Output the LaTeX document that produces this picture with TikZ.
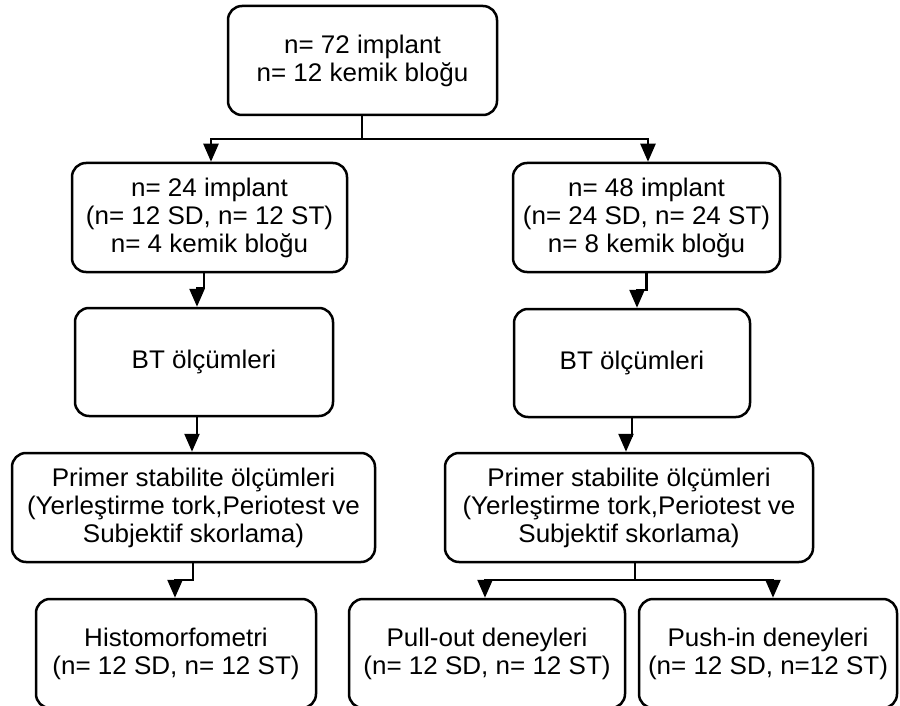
\documentclass[tikz,border=0pt]{standalone}
\usepackage{fontspec}
\setmainfont{Liberation Sans}[FakeStretch=1.02]
\usetikzlibrary{arrows.meta,calc}
\begin{document}
\begin{tikzpicture}[x=1pt,y=-1pt,
  box/.style={draw,line width=2.5pt,rounded corners=14pt,align=center,inner sep=0pt,
    font=\fontsize{25.5}{28}\selectfont},
  arr/.style={line width=2.4pt,-{Triangle[width=15pt,length=18pt]}},
  ln/.style={line width=2.4pt}]
\useasboundingbox (0,0) rectangle (900,706);
\node[box,minimum width=269pt,minimum height=109pt] (top) at (362.5,60.5) {n= 72 implant\\n= 12 kemik bloğu};
\node[box,minimum width=275pt,minimum height=109pt] (L1) at (209.5,217.5) {n= 24 implant\\(n= 12 SD, n= 12 ST)\\n= 4 kemik bloğu};
\node[box,minimum width=267pt,minimum height=109pt] (R1) at (646.5,217.5) {n= 48 implant\\(n= 24 SD, n= 24 ST)\\n= 8 kemik bloğu};
\node[box,minimum width=258pt,minimum height=108pt] (L2) at (204,362) {BT ölçümleri};
\node[box,minimum width=236pt,minimum height=108pt] (R2) at (632,363) {BT ölçümleri};
\node[box,minimum width=363pt,minimum height=109pt] (L3) at (193.5,507.5) {Primer stabilite ölçümleri\\(Yerleştirme tork,Periotest ve\\Subjektif skorlama)};
\node[box,minimum width=368pt,minimum height=109pt] (R3) at (629,507.5) {Primer stabilite ölçümleri\\(Yerleştirme tork,Periotest ve\\Subjektif skorlama)};
\node[box,minimum width=280pt,minimum height=109pt] (L4) at (176,653.5) {Histomorfometri\\(n= 12 SD, n= 12 ST)};
\node[box,minimum width=276pt,minimum height=109pt] (R4a) at (487,653.5) {Pull-out deneyleri\\(n= 12 SD, n= 12 ST)};
\node[box,minimum width=258pt,minimum height=109pt] (R4b) at (768,653.5) {Push-in deneyleri\\(n= 12 SD, n=12 ST)};
% top branch
\draw[ln] ([xshift=-0.5pt]top.south) -- ++(0,23) coordinate (tb);
\draw[arr] (tb) -| ([xshift=1.5pt]L1.north);
\draw[arr] (tb) -| ([xshift=1.5pt]R1.north);
% jogs
\draw[arr] ([xshift=-5.5pt]L1.south) -- ++(0,15) -| ([xshift=-7pt]L2.north);
\draw[arr] (R1.south) -- ++(0,17) -| ([xshift=5pt]R2.north);
\draw[arr] ([xshift=-7pt]L2.south) -- ++(0,19) -| ([xshift=-1.5pt]L3.north);
\draw[arr] (R2.south) -- ++(0,18) -| ([xshift=-3pt]R3.north);
\draw[arr] ([xshift=-0.5pt]L3.south) -- ++(0,17) -| ([xshift=-1pt]L4.north);
% bottom right branch
\draw[ln] ([xshift=6pt]R3.south) -- ++(0,17) coordinate (rb);
\draw[arr] (rb) -| ([xshift=-2pt]R4a.north);
\draw[arr] (rb) -| ([xshift=5pt]R4b.north);
\end{tikzpicture}
\end{document}
